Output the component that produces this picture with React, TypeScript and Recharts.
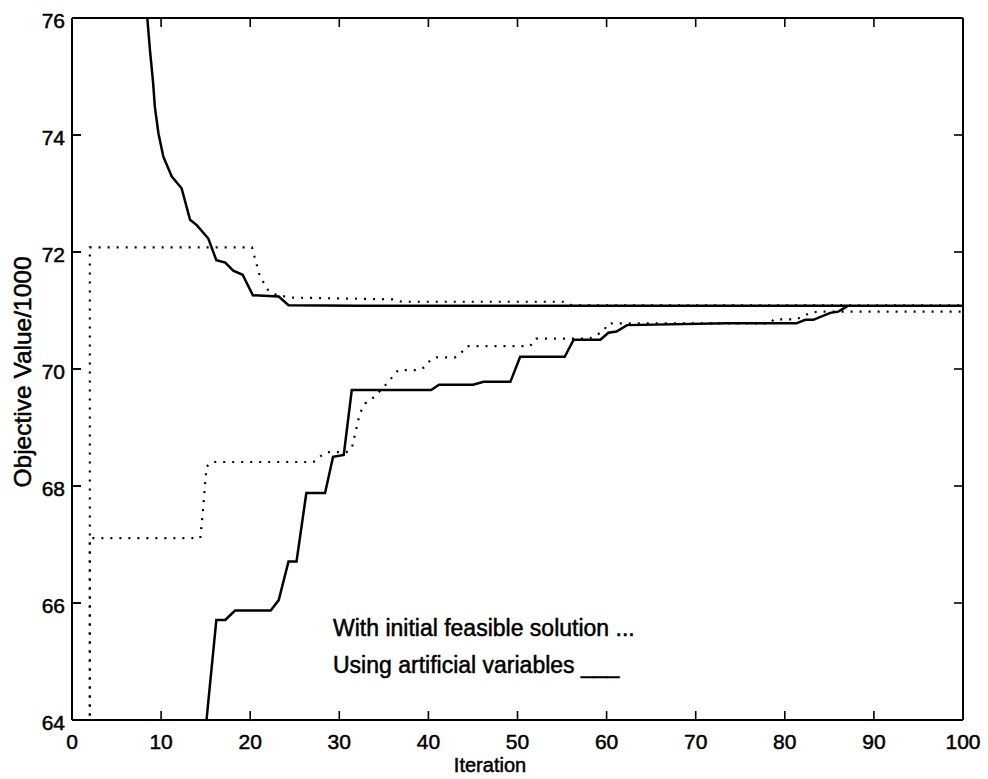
import React from 'react';
import { LineChart, Line, XAxis, YAxis } from 'recharts';

// tick labels
const xTicks = [0, 10, 20, 30, 40, 50, 60, 70, 80, 90, 100];
const yTicks = [64, 66, 68, 70, 72, 74, 76];

// "Using artificial variables" (solid), upper bound
const artUpperX = [8.2, 8.75, 9.1, 9.3, 9.7, 10.25, 11.2, 12.3, 13.25, 14.0, 15.3, 16.2, 17.2, 18.1, 19.15, 20.3, 23.2, 24.3, 32, 100];
const artUpperY = [76.46, 75.45, 74.9, 74.48, 74.03, 73.63, 73.29, 73.09, 72.55, 72.46, 72.23, 71.86, 71.82, 71.68, 71.61, 71.26, 71.24, 71.09, 71.08, 71.08];

// "Using artificial variables" (solid), lower bound
const artLowerX = [15.0, 16.2, 17.2, 18.3, 22.3, 23.2, 24.3, 25.2, 26.3, 28.4, 29.3, 30.5, 31.4, 40.3, 41.2, 45.0, 46.2, 49.2, 50.3, 55.3, 56.3, 59.3, 60.2, 61.1, 62.3, 73.5, 81.3, 82.3, 83.2, 85.1, 86.0, 87.0];
const artLowerY = [63.85, 65.71, 65.71, 65.87, 65.87, 66.05, 66.71, 66.71, 67.88, 67.88, 68.5, 68.53, 69.64, 69.64, 69.73, 69.73, 69.78, 69.78, 70.21, 70.21, 70.5, 70.5, 70.62, 70.64, 70.75, 70.78, 70.78, 70.84, 70.84, 70.96, 70.98, 71.07];

// "With initial feasible solution" (dotted), upper bound
const feasUpperX = [2, 2, 20.2, 20.7, 21.1, 22.0, 23.0, 24.8, 36, 37, 55.1, 56.1, 100];
const feasUpperY = [55, 72.08, 72.08, 71.8, 71.58, 71.35, 71.26, 71.22, 71.19, 71.15, 71.15, 71.09, 71.09];

// "With initial feasible solution" (dotted), lower bound
const feasLowerX = [2, 2, 14.4, 14.7, 15.1, 15.7, 27.1, 27.8, 28.6, 30.8, 31.4, 32.3, 32.9, 34.0, 35.5, 36.6, 38.7, 39.6, 40.2, 40.9, 43.0, 43.7, 44.3, 51.4, 52.1, 58.1, 59.6, 60.2, 78.3, 78.8, 81.3, 83.0, 84.0, 100];
const feasLowerY = [55, 67.11, 67.11, 67.59, 68.33, 68.41, 68.41, 68.5, 68.58, 68.58, 68.64, 69.24, 69.41, 69.53, 69.78, 69.98, 69.98, 70.03, 70.15, 70.2, 70.2, 70.28, 70.39, 70.39, 70.52, 70.52, 70.64, 70.78, 70.78, 70.85, 70.85, 70.97, 70.98, 70.98];

const pts = (xs: number[], ys: number[]) => xs.map((x, i) => ({ x, y: ys[i] }));

const FONT = '"Liberation Sans", Arial, Helvetica, sans-serif';
const TICK_LEN = 9;
const LEFT_MARGIN = 16;

// tick labels; inward tick marks come from the axes (negative tickSize)
const BottomTick = (props: any) => {
  const { x, y, payload } = props;
  return (
    <text x={x} y={y} textAnchor="middle" dominantBaseline="central" fontFamily={FONT} fontSize={21} fill="#000" stroke="#000" strokeWidth={0.5}>
      {payload.value}
    </text>
  );
};

const LeftTick = (props: any) => {
  const { x, y, payload } = props;
  return (
    <g>
      {/* the left tick mark again, in case the axis one is hidden */}
      <line x1={x + LEFT_MARGIN - TICK_LEN} x2={x + LEFT_MARGIN} y1={y} y2={y} stroke="#000" strokeWidth={1.6} />
      <text x={x} y={y + 2} textAnchor="end" dominantBaseline="central" fontFamily={FONT} fontSize={21} fill="#000" stroke="#000" strokeWidth={0.5}>
        {payload.value}
      </text>
    </g>
  );
};

// top / right axes: tick marks only
const NoLabel = () => <g />;

const textStyle: React.CSSProperties = {
  position: 'absolute',
  fontFamily: FONT,
  color: '#000',
  whiteSpace: 'nowrap',
  lineHeight: 1,
  WebkitTextStroke: '0.5px #000',
};

export default function App() {
  const axisLine = { stroke: '#000', strokeWidth: 2 };
  const tickLine = { stroke: '#000', strokeWidth: 1.6 };
  const dotted = { stroke: '#000', strokeWidth: 2.2, strokeDasharray: '2 7' };
  return (
    <div style={{ position: 'absolute', left: 0, top: 0, width: 988, height: 779, background: '#fff' }}>
      <LineChart width={988} height={779} margin={{ top: 17, right: 24, bottom: 9, left: 12 }}>
        <XAxis
          xAxisId={0}
          dataKey="x"
          type="number"
          domain={[0, 100]}
          ticks={xTicks}
          allowDataOverflow
          height={50}
          tickSize={-TICK_LEN}
          tickMargin={30}
          tickLine={tickLine}
          axisLine={axisLine}
          tick={<BottomTick />}
          interval={0}
        />
        <XAxis
          xAxisId="top"
          orientation="top"
          dataKey="x"
          type="number"
          domain={[0, 100]}
          ticks={xTicks}
          allowDataOverflow
          height={1}
          tickSize={-TICK_LEN}
          tickMargin={0}
          tickLine={tickLine}
          axisLine={axisLine}
          tick={<NoLabel />}
          interval={0}
        />
        <YAxis
          yAxisId={0}
          type="number"
          domain={[64, 76]}
          ticks={yTicks}
          allowDataOverflow
          width={60}
          tickSize={-TICK_LEN}
          tickMargin={LEFT_MARGIN}
          tickLine={tickLine}
          axisLine={axisLine}
          tick={<LeftTick />}
          interval={0}
        />
        <YAxis
          yAxisId="right"
          orientation="right"
          type="number"
          domain={[64, 76]}
          ticks={yTicks}
          allowDataOverflow
          width={1}
          tickSize={-TICK_LEN}
          tickMargin={0}
          tickLine={tickLine}
          axisLine={axisLine}
          tick={<NoLabel />}
          interval={0}
        />
        {/* the dotted series sit on the top/right axes, which share the same domains */}
        <Line xAxisId="top" yAxisId="right" data={pts(feasUpperX, feasUpperY)} dataKey="y" type="linear" {...dotted} dot={false} activeDot={false} isAnimationActive={false} />
        <Line xAxisId="top" yAxisId="right" data={pts(feasLowerX, feasLowerY)} dataKey="y" type="linear" {...dotted} dot={false} activeDot={false} isAnimationActive={false} />
        <Line data={pts(artUpperX, artUpperY)} dataKey="y" type="linear" stroke="#000" strokeWidth={2.5} dot={false} activeDot={false} isAnimationActive={false} />
        <Line data={pts(artLowerX, artLowerY)} dataKey="y" type="linear" stroke="#000" strokeWidth={2.5} dot={false} activeDot={false} isAnimationActive={false} />
      </LineChart>

      <div style={{ ...textStyle, left: 23, top: 372, fontSize: 24.5, transform: 'translate(-50%, -50%) rotate(-90deg)' }}>
        Objective Value/1000
      </div>
      <div style={{ ...textStyle, left: 490, top: 765, fontSize: 20, transform: 'translate(-50%, -50%)' }}>
        Iteration
      </div>
      <div style={{ ...textStyle, left: 333, top: 628 - 11.5, fontSize: 23 }}>
        With initial feasible solution ...
      </div>
      <div style={{ ...textStyle, left: 333, top: 665 - 11.5, fontSize: 23 }}>
        Using artificial variables ___
      </div>
    </div>
  );
}
